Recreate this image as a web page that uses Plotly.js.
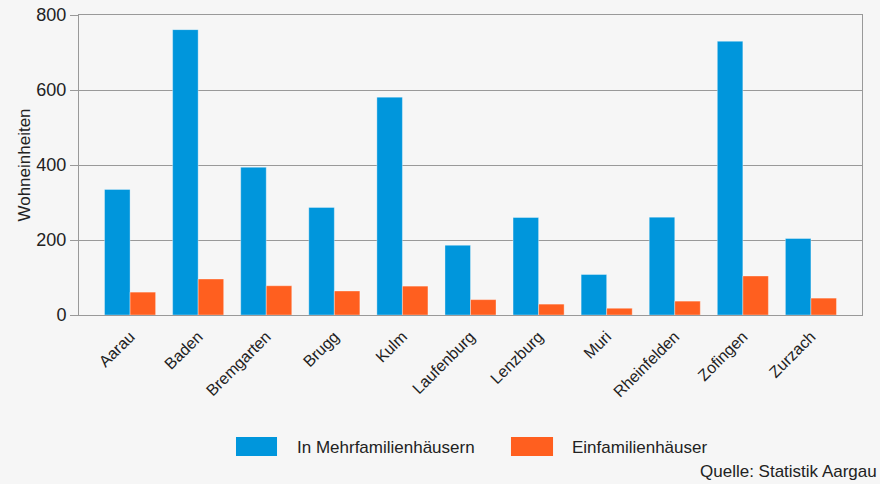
<!DOCTYPE html>
<html>
<head>
<meta charset="utf-8">
<script src="https://cdn.plot.ly/plotly-3.0.1.min.js"></script>
<style>html,body{margin:0;padding:0;background:#f6f6f6;}#chart{width:880px;height:484px;}</style>
</head>
<body>
<div id="chart"></div>
<script>
const categories = ["Aarau","Baden","Bremgarten","Brugg","Kulm","Laufenburg","Lenzburg","Muri","Rheinfelden","Zofingen","Zurzach"];
const mehrfamilien = [335, 761, 394, 287, 581, 186, 260, 108, 261, 730, 204];
const einfamilien = [61, 96, 78, 64, 77, 41, 29, 18, 37, 104, 45];
const yTicks = [0, 200, 400, 600, 800];
const seriesNames = ["In Mehrfamilienhäusern", "Einfamilienhäuser"];
const seriesColors = ["#0096dc", "#ff5f1f"];
const sourceText = "Quelle: Statistik Aargau";

const font = "Liberation Sans, Arial, sans-serif";
const traces = [
  {type:"bar", name:seriesNames[0], x:categories, y:mehrfamilien, showlegend:false,
   marker:{color:seriesColors[0], line:{color:"rgba(255,255,255,0.35)", width:1}}},
  {type:"bar", name:seriesNames[1], x:categories, y:einfamilien, showlegend:false,
   marker:{color:seriesColors[1], line:{color:"rgba(255,255,255,0.35)", width:1}}}
];

// custom legend (large swatches like the reference)
const legendSwatches = [[0.2005, 0.2529], [0.5517, 0.6054]];
const legendTextX = [0.2759, 0.6271];
const shapes = legendSwatches.map((s, i) => ({type:"rect", xref:"paper", yref:"paper",
  x0:s[0], x1:s[1], y0:-0.47, y1:-0.407, fillcolor:seriesColors[i], line:{width:0}}));
const annotations = seriesNames.map((n, i) => ({text:n, xref:"paper", yref:"paper",
  x:legendTextX[i], y:-0.44, xanchor:"left", yanchor:"middle", showarrow:false,
  font:{size:17, color:"#222"}}));
annotations.push({text:sourceText, xref:"paper", yref:"paper",
  x:1.0217, y:-0.52, xanchor:"right", yanchor:"middle", showarrow:false,
  font:{size:17, color:"#222"}});

const layout = {
  width:880, height:484,
  paper_bgcolor:"#f6f6f6", plot_bgcolor:"#f6f6f6",
  margin:{l:79, r:18, t:15, b:169},
  barmode:"group", bargap:0.25, bargroupgap:0,
  font:{family:font, size:15, color:"#222"},
  showlegend:false,
  xaxis:{range:[-0.75,10.75], tickangle:-45, tickfont:{size:16, color:"#222"}, automargin:false,
         showline:true, linecolor:"#999", mirror:true, ticks:"outside", ticklen:5, tickcolor:"rgba(0,0,0,0)", showgrid:false},
  yaxis:{range:[0,800], tickvals:yTicks, ticktext:yTicks.map(String), automargin:false,
         showgrid:true, gridcolor:"#999", gridwidth:1, zeroline:false,
         showline:true, linecolor:"#999", mirror:true, ticks:"outside", ticklen:8, tickcolor:"#999",
         tickfont:{size:18, color:"#222"},
         title:{text:"Wohneinheiten", font:{size:17, color:"#222"}}},
  shapes:shapes,
  annotations:annotations
};
Plotly.newPlot("chart", traces, layout, {displayModeBar:false, staticPlot:true});
</script>
</body>
</html>
